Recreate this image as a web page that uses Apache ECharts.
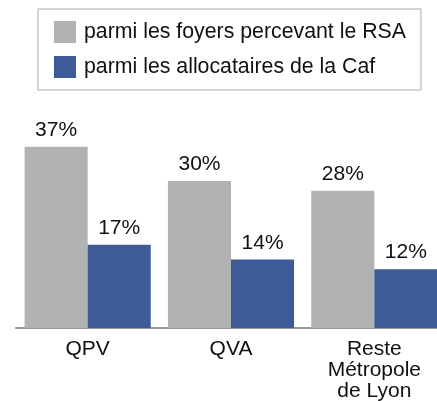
<!DOCTYPE html>
<html><head><meta charset="utf-8">
<script src="https://cdn.jsdelivr.net/npm/echarts@6/dist/echarts.min.js"></script>
<style>html,body{margin:0;padding:0;background:#fff}#c{width:437px;height:401px}</style>
</head><body><div id="c"></div>
<script>
const categories = ['QPV', 'QVA', 'Reste\nMétropole\nde Lyon'];
const seriesNames = ['parmi les foyers percevant le RSA', 'parmi les allocataires de la Caf'];
const rsaValues = [37, 30, 28];
const cafValues = [17, 14, 12];

const FONT = '"Liberation Sans", Arial, Helvetica, sans-serif';
const chart = echarts.init(document.getElementById('c'), null, {renderer: 'canvas'});
chart.setOption({
  animation: false,
  backgroundColor: '#fff',
  textStyle: {fontFamily: FONT},
  legend: {
    orient: 'vertical', left: 38, top: 9,
    padding: [12, 15, 12, 16],
    itemWidth: 22, itemHeight: 22, itemGap: 13,
    borderColor: '#aaa', borderWidth: 1,
    icon: 'rect',
    textStyle: {fontSize: 21.3, lineHeight: 22, color: '#111', fontFamily: FONT, padding: [0, 0, 0, 3]},
    data: seriesNames
  },
  grid: {left: 16, width: 430, top: 132, bottom: 73, outerBoundsMode: 'none', containLabel: false},
  xAxis: {
    type: 'category', data: categories,
    axisLine: {lineStyle: {color: '#999', width: 2}},
    axisTick: {show: false},
    axisLabel: {fontSize: 21, color: '#111', lineHeight: 21, margin: 11, fontFamily: FONT, interval: 0}
  },
  yAxis: {type: 'value', min: 0, max: 40, show: false, splitLine: {show: false}},
  series: [
    {name: seriesNames[0], type: 'bar', data: rsaValues, barGap: '0%', barCategoryGap: '12%',
     itemStyle: {color: '#b2b2b2'},
     label: {show: true, position: 'top', distance: 6, fontSize: 21, color: '#111', fontFamily: FONT, formatter: '{c}%'}},
    {name: seriesNames[1], type: 'bar', data: cafValues, barGap: '0%', barCategoryGap: '12%',
     itemStyle: {color: '#3d5b96'},
     label: {show: true, position: 'top', distance: 6, fontSize: 21, color: '#111', fontFamily: FONT, formatter: '{c}%'}}
  ]
});
</script></body></html>
